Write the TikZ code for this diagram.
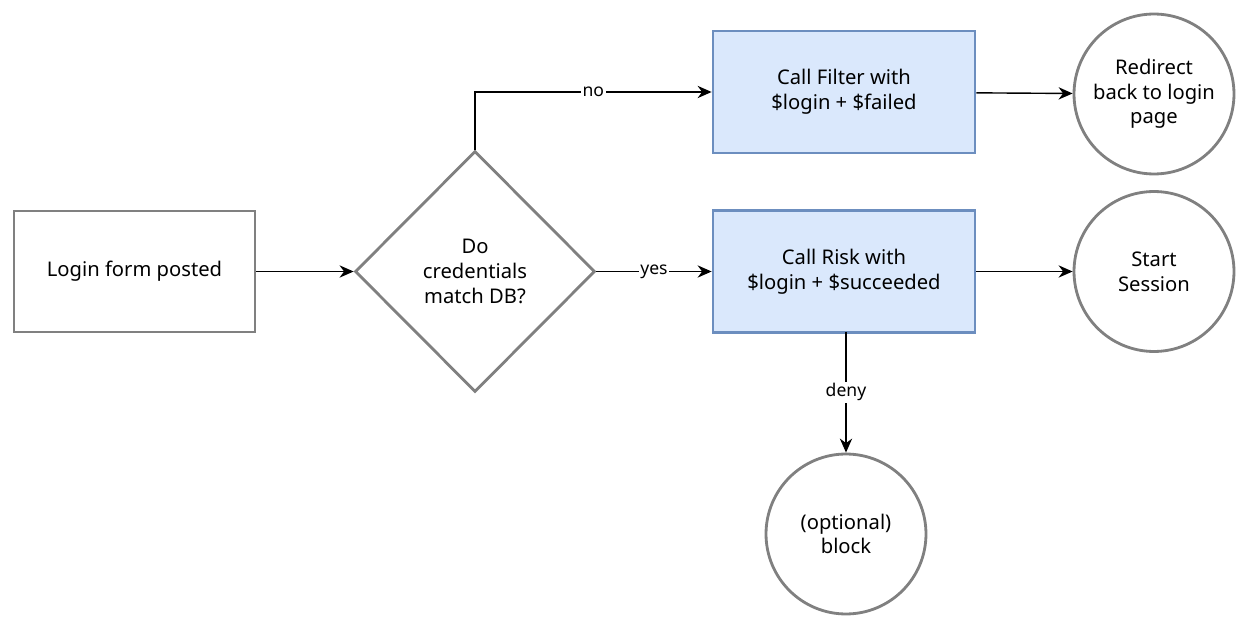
\documentclass[tikz,border=0pt]{standalone}
\usepackage{fontspec}
\setmainfont{Noto Sans}
\usetikzlibrary{shapes.geometric,arrows.meta}
\definecolor{edge}{HTML}{808080}
\definecolor{bfill}{HTML}{DAE8FC}
\definecolor{bline}{HTML}{6C8EBF}
\begin{document}
\begin{tikzpicture}[x=0.02cm,y=-0.02cm,
  txt/.style={font=\fontsize{11.5}{14}\selectfont,align=center},
  plain/.style={txt,draw=edge,line width=1.6pt,minimum width=4.82cm,minimum height=2.42cm},
  blue/.style={txt,draw=bline,fill=bfill,line width=1.6pt,minimum width=5.24cm,minimum height=2.44cm},
  circ/.style={txt,circle,draw=edge,line width=1.6pt,minimum size=3.2cm,inner sep=0pt},
  dia/.style={txt,diamond,draw=edge,line width=1.6pt,minimum width=4.8cm,minimum height=4.82cm,inner sep=0pt},
  arr/.style={-{Stealth[length=8pt,width=7pt]},line width=0.8pt},
  lab/.style={font=\fontsize{10}{12}\selectfont,fill=white,inner sep=1pt}]
\useasboundingbox (0,0) rectangle (1252,628);
\node[plain] (login) at (134.5,271.5) {Login form posted};
\node[dia] (d) at (475,271.5) {Do\\credentials\\match DB?};
\node[blue] (filter) at (844,92) {Call \textbf{Filter} with\\\$login + \textbf{\$failed}};
\node[blue] (risk) at (844,271.5) {Call \textbf{Risk} with\\\$login + \textbf{\$succeeded}};
\node[circ] (redir) at (1154,94) {Redirect\\back to login\\page};
\node[circ] (start) at (1154,271.5) {Start\\Session};
\node[circ] (block) at (846,534) {(optional)\\block};
\coordinate (risktop) at (846,332);
\draw[arr] (login) -- (d);
\draw[arr] (d.north) |- node[lab,pos=0.75]{no} (filter.west);
\draw[arr] (d.east) -- node[lab]{yes} (risk.west);
\draw[arr] (filter) -- (redir);
\draw[arr] (risk) -- (start);
\draw[arr] (risktop) -- node[lab]{deny} (block.north);
\end{tikzpicture}
\end{document}
